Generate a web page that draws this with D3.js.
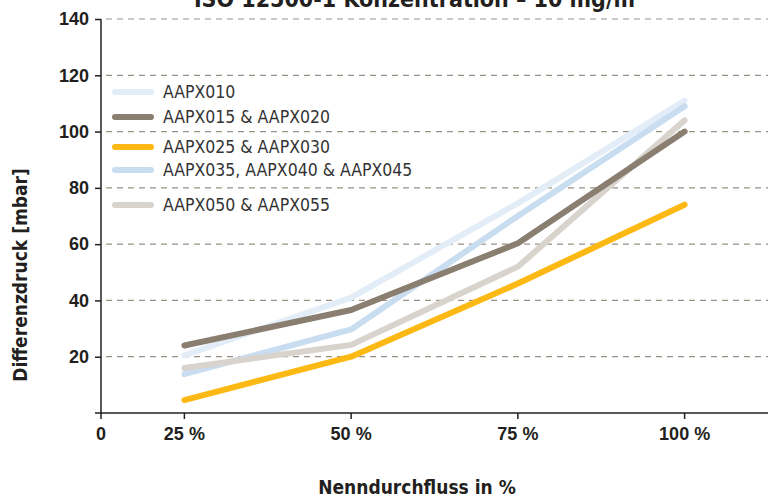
<!DOCTYPE html>
<html lang="de">
<head>
<meta charset="utf-8">
<title>Differenzdruck</title>
<script src="https://d3js.org/d3.v7.min.js"></script>
<style>
    body { margin: 0; background: #fff; }
    svg { display: block; font-family: "DejaVu Sans Condensed", "DejaVu Sans", sans-serif; }
    .tick text { font-weight: bold; font-size: 18px; fill: #231f20; }
    .axis path, .axis line { stroke: #231f20; stroke-width: 1.5; }
    .grid line { stroke: #9b9084; stroke-width: 1.2; stroke-dasharray: 6 5; }
    .legend text { font-size: 17.5px; fill: #333; }
    .title { font-weight: bold; font-size: 23px; fill: #231f20; }
    .axis-title { font-weight: bold; font-size: 19px; fill: #231f20; }
</style>
</head>
<body>
<script>

// data
const categories = ["25 %", "50 %", "75 %", "100 %"];
const seriesNames = ["AAPX010", "AAPX015 & AAPX020", "AAPX025 & AAPX030",
                     "AAPX035, AAPX040 & AAPX045", "AAPX050 & AAPX055"];
const seriesColors = ["#e3edf7", "#8a7e70", "#fdb913", "#c9ddf1", "#d8d3cd"];

const aapx010 = [20.5, 41, 74.5, 111];
const aapx015 = [24, 36.6, 60.3, 100];
const aapx025 = [4.6, 20, 46, 74];
const aapx035 = [13.8, 29.7, 70, 109];
const aapx050 = [16, 24.2, 52, 104];

const yTicks = [20, 40, 60, 80, 100, 120, 140];

// draw order: back to front
const series = [
    { name: seriesNames[0], color: seriesColors[0], values: aapx010 },
    { name: seriesNames[3], color: seriesColors[3], values: aapx035 },
    { name: seriesNames[4], color: seriesColors[4], values: aapx050 },
    { name: seriesNames[1], color: seriesColors[1], values: aapx015 },
    { name: seriesNames[2], color: seriesColors[2], values: aapx025 }
];

let W = 768, H = 499;
let margin = { top: 19, right: 0, bottom: 86, left: 101 };
let w = W - margin.left - margin.right,
    h = H - margin.top - margin.bottom;

let svg = d3.select("body").append("svg")
    .attr("width", W)
    .attr("height", H);

let g = svg.append("g")
    .attr("transform", "translate(" + margin.left + "," + margin.top + ")");

let x = d3.scaleBand()
    .domain(categories)
    .range([0, w])
    .padding(0);

let y = d3.scaleLinear()
    .domain([0, 140])
    .range([h, 0]);

// gridlines
g.append("g")
    .attr("class", "grid")
    .selectAll("line")
    .data(yTicks)
    .enter()
    .append("line")
    .attr("x1", 5)
    .attr("x2", w)
    .attr("y1", d => y(d))
    .attr("y2", d => y(d));

// y axis
g.append("g")
    .attr("class", "axis")
    .call(d3.axisLeft(y).tickValues(yTicks).tickSize(6).tickPadding(6).tickSizeOuter(0))
    .call(a => a.select(".domain").attr("d", "M0," + (h + 0.5) + "V0"));

// x axis (with an extra "0" at the origin)
let xa = g.append("g")
    .attr("class", "axis")
    .attr("transform", "translate(0," + h + ")")
    .call(d3.axisBottom(x).tickSize(6).tickPadding(8).tickSizeOuter(0));
xa.select(".domain").attr("d", "M-6,0H" + w);
let zero = xa.append("g").attr("class", "tick").attr("transform", "translate(0,0)");
zero.append("line").attr("y2", 6).attr("stroke", "#231f20");
zero.append("text").attr("y", 14).attr("dy", "0.71em")
    .attr("text-anchor", "middle").text("0");

// lines
let line = d3.line()
    .x((d, i) => x(categories[i]) + x.bandwidth() / 2)
    .y(d => y(d));

g.selectAll("path.series")
    .data(series)
    .enter()
    .append("path")
    .attr("class", "series")
    .attr("fill", "none")
    .attr("stroke", d => d.color)
    .attr("stroke-width", 6)
    .attr("stroke-linecap", "round")
    .attr("stroke-linejoin", "round")
    .attr("d", d => line(d.values));

// legend
let legendY = [92, 117, 147, 170, 205];
let legend = svg.append("g").attr("class", "legend")
    .selectAll("g")
    .data(seriesNames)
    .enter()
    .append("g")
    .attr("transform", (d, i) => "translate(113," + legendY[i] + ")");

legend.append("line")
    .attr("x1", 2).attr("x2", 38)
    .attr("stroke", (d, i) => seriesColors[i])
    .attr("stroke-width", 6)
    .attr("stroke-linecap", "round");

legend.append("text")
    .attr("x", 50)
    .attr("dy", "0.35em")
    .text(d => d);

// titles
svg.append("text")
    .attr("class", "title")
    .attr("x", 419)
    .attr("y", 7)
    .attr("text-anchor", "middle")
    .text("ISO 12500-1 Konzentration – 10 mg/m³");

svg.append("text")
    .attr("class", "axis-title")
    .attr("x", 417)
    .attr("y", 494)
    .attr("text-anchor", "middle")
    .text("Nenndurchfluss in %");

svg.append("text")
    .attr("class", "axis-title")
    .attr("transform", "translate(27,275) rotate(-90)")
    .attr("text-anchor", "middle")
    .text("Differenzdruck [mbar]");

</script>
</body>
</html>
